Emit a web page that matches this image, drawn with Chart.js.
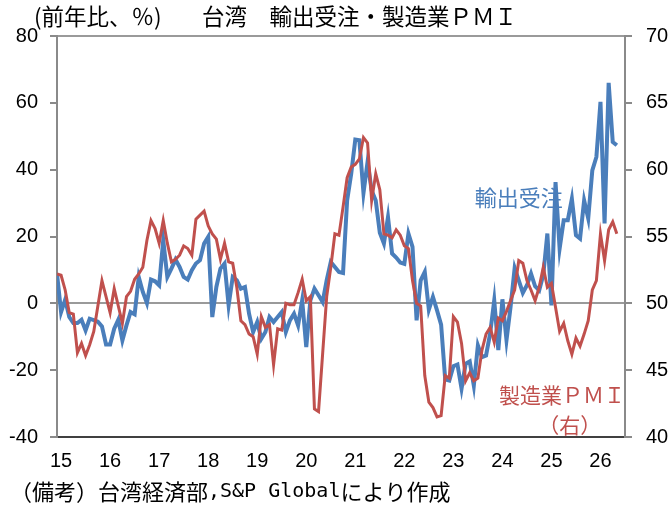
<!DOCTYPE html>
<html>
<head>
<meta charset="utf-8">
<script src="https://cdn.jsdelivr.net/npm/chart.js@4.4.1/dist/chart.umd.min.js"></script>
<style>
  html, body { margin: 0; padding: 0; background: #fff; }
  #wrap { width: 672px; height: 506px; }
</style>
</head>
<body>
<div id="wrap"><canvas id="chart" width="672" height="506"></canvas></div>
<script>
// 年ラベル（各年の位置に表示）
const yearLabels = ['15', '16', '17', '18', '19', '20', '21', '22', '23', '24', '25', '26'];

// 輸出受注（前年比、%）2015年1月～ 月次
const exportOrders = [
  8.9, -2.6, 1.1, -4.1, -5.9, -5.9, -4.9, -8.1, -4.6, -5.0, -5.5, -6.9,
  -12.3, -12.3, -7.6, -4.9, -11.1, -6.6, -2.6, -3.3, 7.9, 3.4, 0.1, 7.1,
  6.6, 5.4, 18.9, 7.9, 10.4, 13.1, 10.9, 7.9, 7.1, 9.9, 11.9, 12.9,
  17.9, 19.9, -4.1, 4.9, 10.4, 11.9, -0.6, 7.9, 6.9, 4.4, 4.9, -3.1,
  -8.6, -5.6, -10.6, -8.6, -4.1, -5.6, -4.1, -2.6, -8.6, -5.1, -3.1, -6.6,
  0.9, -13.1, 0.9, 4.4, 2.4, 0.4, 6.9, 12.4, 10.9, 9.4, 9.1, 30.8,
  38.8, 49.0, 48.8, 33.0, 42.3, 33.8, 30.8, 21.1, 17.9, 25.8, 14.9, 13.7,
  12.2, 11.8, 20.9, 16.9, -5.1, 6.9, 9.4, -1.9, 1.9, -2.1, -6.4, -22.8,
  -23.1, -18.8, -18.3, -25.5, -18.1, -17.4, -24.6, -12.6, -16.1, -15.6, -9.0, 0.9,
  -14.0, 1.2, -11.0, -1.0, 10.6, 6.9, 3.1, 5.4, 8.9, 5.1, 3.9, 8.5,
  20.9, -0.6, 36.3, 16.4, 24.9, 24.9, 31.3, 20.4, 19.4, 30.8, 25.4, 39.8,
  43.8, 60.3, 23.9, 66.0, 48.3, 47.3
];

// 製造業PMI（右軸）
const pmi = [
  52.2, 52.1, 51.0, 49.3, 49.2, 46.3, 47.0, 46.1, 46.9, 47.9, 49.8, 51.7,
  50.5, 49.3, 51.1, 49.8, 48.5, 50.5, 50.9, 51.8, 52.2, 52.7, 54.7, 56.2,
  55.6, 54.5, 56.2, 54.5, 53.1, 53.3, 53.6, 54.3, 54.1, 53.6, 56.3, 56.6,
  56.9, 55.8, 55.2, 54.8, 53.3, 54.5, 53.1, 53.0, 51.2, 48.7, 48.4, 47.7,
  47.5, 46.2, 49.0, 48.2, 48.4, 45.4, 48.1, 48.0, 50.0, 49.9, 49.9, 50.8,
  51.8, 50.2, 50.5, 42.1, 41.9, 46.2, 50.5, 52.7, 55.2, 55.1, 57.2, 59.4,
  60.2, 60.4, 60.8, 62.4, 62.0, 57.7, 59.7, 58.5, 55.2, 55.1, 54.9, 55.5,
  55.1, 54.3, 54.1, 51.7, 50.0, 49.8, 44.6, 42.6, 42.2, 41.5, 41.6, 44.6,
  44.4, 49.0, 48.6, 47.0, 44.2, 44.8, 44.2, 44.4, 46.5, 47.7, 48.2, 47.1,
  48.9, 48.7, 49.4, 50.2, 51.0, 53.2, 53.0, 51.7, 51.0, 50.2, 51.2, 52.7,
  51.2, 51.5, 49.7, 47.9, 48.5, 47.2, 46.2, 47.4, 46.8, 47.7, 48.7, 51.0,
  51.7, 55.2, 53.2, 55.5, 56.1, 55.2
];

const BLUE = '#4a7ebb';
const RED = '#c0504d';
const JP = '"Noto Sans CJK JP", sans-serif';
const NUM = '"Liberation Sans Narrow", "Liberation Sans", sans-serif';

// タイトル・注記などの文字
const textPlugin = {
  id: 'texts',
  afterDraw(chart) {
    const ctx = chart.ctx;
    const x = chart.scales.x, y = chart.scales.y;
    ctx.save();
    ctx.textBaseline = 'middle';
    ctx.fillStyle = '#000';
    ctx.textAlign = 'left';
    ctx.font = '22.5px ' + JP;
    ctx.fillText('(前年比、％)', 34, 16);
    ctx.fillText('台湾　輸出受注・製造業ＰＭＩ', 202, 16);

    // 備考：英字部分は等幅で
    let fx = 10;
    const fy = 492;
    const parts = [['（備考）台湾経済部', '22px ' + JP], [',S&P Global', '20px "DejaVu Sans Mono", monospace'], ['により作成', '22px ' + JP]];
    parts.forEach(([t, f]) => {
      ctx.font = f;
      ctx.fillText(t, fx, fy);
      fx += ctx.measureText(t).width;
    });

    ctx.textAlign = 'center';
    ctx.font = '22px ' + JP;
    ctx.fillStyle = BLUE;
    ctx.fillText('輸出受注', x.getPixelForValue(113), y.getPixelForValue(31.5));
    ctx.font = '21px ' + JP;
    ctx.fillStyle = RED;
    ctx.fillText('製造業ＰＭＩ', x.getPixelForValue(123.6), y.getPixelForValue(-27.5));
    ctx.fillText('（右）', x.getPixelForValue(125.5), y.getPixelForValue(-36.5));
    ctx.restore();
  }
};

new Chart(document.getElementById('chart').getContext('2d'), {
  type: 'line',
  data: {
    datasets: [{
      label: '輸出受注',
      data: exportOrders.map((v, i) => ({ x: i, y: v })),
      borderColor: BLUE,
      borderWidth: 4,
      pointRadius: 0,
      tension: 0,
      yAxisID: 'y',
      order: 1
    }, {
      label: '製造業PMI（右）',
      data: pmi.map((v, i) => ({ x: i, y: v })),
      borderColor: RED,
      borderWidth: 3,
      pointRadius: 0,
      tension: 0,
      yAxisID: 'y2',
      order: 0
    }]
  },
  options: {
    responsive: false,
    devicePixelRatio: 1,
    animation: false,
    layout: { padding: { top: 36, left: 0, right: 0, bottom: 0 } },
    plugins: { legend: { display: false }, tooltip: { enabled: false } },
    scales: {
      x: {
        type: 'linear',
        min: 0,
        max: 139,
        afterBuildTicks: s => { s.ticks = yearLabels.map((t, k) => ({ value: 12 * k + 1 })); },
        afterFit: s => { s.height = 69; },
        ticks: {
          autoSkip: false,
          maxRotation: 0,
          padding: 12,
          color: '#000',
          font: { family: NUM, size: 20 },
          callback: (v, i) => yearLabels[i]
        },
        grid: { drawOnChartArea: false, drawTicks: false },
        border: { display: true, color: '#404040', width: 2 }
      },
      y: {
        position: 'left',
        min: -40,
        max: 80,
        afterBuildTicks: s => { s.ticks = [-40, -20, 0, 20, 40, 60, 80].map(v => ({ value: v })); },
        afterFit: s => { s.width = 57; },
        ticks: {
          padding: 12,
          color: '#000',
          font: { family: NUM, size: 20 },
          callback: v => String(v)
        },
        grid: {
          color: c => (c.tick && (c.tick.value === 0 || c.tick.value === 80)) ? '#9a9a9a' : 'rgba(0,0,0,0)',
          lineWidth: 2,
          tickColor: '#8a8a8a',
          tickLength: 7
        },
        border: { color: '#8a8a8a', width: 2 }
      },
      y2: {
        position: 'right',
        min: 40,
        max: 70,
        afterBuildTicks: s => { s.ticks = [40, 45, 50, 55, 60, 65, 70].map(v => ({ value: v })); },
        afterFit: s => { s.width = 47; },
        ticks: {
          padding: 14,
          color: '#000',
          font: { family: NUM, size: 20 },
          callback: v => String(v)
        },
        grid: { drawOnChartArea: false, tickColor: '#8a8a8a', tickLength: 7, lineWidth: 2 },
        border: { color: '#8a8a8a', width: 2 }
      }
    }
  },
  plugins: [textPlugin]
});
</script>
</body>
</html>
